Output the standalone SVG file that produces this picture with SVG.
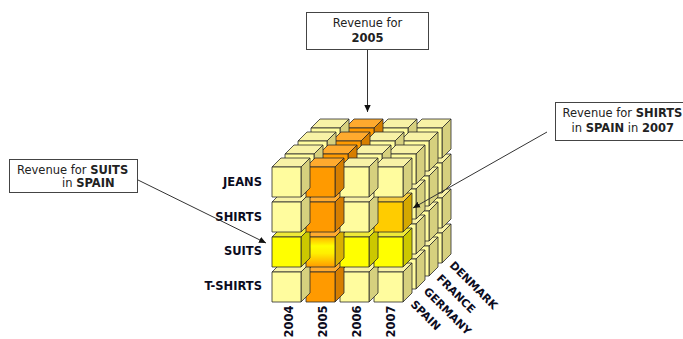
<svg xmlns="http://www.w3.org/2000/svg" xmlns:xlink="http://www.w3.org/1999/xlink" width="683" height="339" viewBox="0 0 683 339">
<style>
.f{stroke:#2a2a2a;stroke-width:0.8;stroke-linejoin:round}
.lbl{font-family:"DejaVu Sans",Verdana,sans-serif;font-weight:bold;font-size:11.5px;fill:#0c0c1e}
.cty{font-size:11px}
.co{font-family:"DejaVu Sans",Verdana,sans-serif;font-size:11.5px;fill:#222}
.co tspan.b{font-weight:bold}
.box{fill:#fff;stroke:#444;stroke-width:1}
.ln{stroke:#333;stroke-width:1;fill:none}
</style>
<defs>
<linearGradient id="gMix" x1="0" y1="0" x2="0" y2="1">
<stop offset="0" stop-color="#FFB400"/>
<stop offset="0.3" stop-color="#FFFF00"/>
<stop offset="0.55" stop-color="#FFEE00"/>
<stop offset="1" stop-color="#FF9A00"/>
</linearGradient>
<marker id="ah" markerWidth="8" markerHeight="8" refX="7" refY="4" orient="auto" markerUnits="userSpaceOnUse">
<path d="M0,0.8 L7,4 L0,7.2 Z" fill="#111"/>
</marker>
<g id="cP">
<polygon class="f" points="0,0 29,0 38,-9 9,-9" fill="#F8F2A6"/>
<polygon class="f" points="29,0 38,-9 38,21 29,30" fill="#D6D07E"/>
<rect class="f" x="0" y="0" width="29" height="30" fill="#FFFC9E"/>
</g>
<g id="cO">
<polygon class="f" points="0,0 29,0 38,-9 9,-9" fill="#FFAA2E"/>
<polygon class="f" points="29,0 38,-9 38,21 29,30" fill="#D67E00"/>
<rect class="f" x="0" y="0" width="29" height="30" fill="#FF9A00"/>
</g>
<g id="cY">
<polygon class="f" points="0,0 29,0 38,-9 9,-9" fill="#EFEA38"/>
<polygon class="f" points="29,0 38,-9 38,21 29,30" fill="#CCC800"/>
<rect class="f" x="0" y="0" width="29" height="30" fill="#FFFF00"/>
</g>
<g id="cG">
<polygon class="f" points="0,0 29,0 38,-9 9,-9" fill="#F5CC40"/>
<polygon class="f" points="29,0 38,-9 38,21 29,30" fill="#D4A800"/>
<rect class="f" x="0" y="0" width="29" height="30" fill="#FFCC00"/>
</g>
<g id="cM">
<polygon class="f" points="0,0 29,0 38,-9 9,-9" fill="#FFAA2E"/>
<polygon class="f" points="29,0 38,-9 38,21 29,30" fill="#D9B000"/>
<rect class="f" x="0" y="0" width="29" height="30" fill="url(#gMix)"/>
</g>
</defs>

<g id="cube">
<!-- layer DENMARK (k=3) -->
<use href="#cP" x="413" y="233"/><use href="#cP" x="379" y="233"/><use href="#cO" x="345" y="233"/><use href="#cP" x="311" y="233"/>
<use href="#cP" x="413" y="198"/><use href="#cP" x="379" y="198"/><use href="#cO" x="345" y="198"/><use href="#cP" x="311" y="198"/>
<use href="#cP" x="413" y="163"/><use href="#cP" x="379" y="163"/><use href="#cO" x="345" y="163"/><use href="#cP" x="311" y="163"/>
<use href="#cP" x="413" y="128"/><use href="#cP" x="379" y="128"/><use href="#cO" x="345" y="128"/><use href="#cP" x="311" y="128"/>
<!-- layer FRANCE (k=2) -->
<use href="#cP" x="400" y="246"/><use href="#cP" x="366" y="246"/><use href="#cO" x="332" y="246"/><use href="#cP" x="298" y="246"/>
<use href="#cP" x="400" y="211"/><use href="#cP" x="366" y="211"/><use href="#cO" x="332" y="211"/><use href="#cP" x="298" y="211"/>
<use href="#cP" x="400" y="176"/><use href="#cP" x="366" y="176"/><use href="#cO" x="332" y="176"/><use href="#cP" x="298" y="176"/>
<use href="#cP" x="400" y="141"/><use href="#cP" x="366" y="141"/><use href="#cO" x="332" y="141"/><use href="#cP" x="298" y="141"/>
<!-- layer GERMANY (k=1) -->
<use href="#cP" x="387" y="259"/><use href="#cP" x="353" y="259"/><use href="#cO" x="319" y="259"/><use href="#cP" x="285" y="259"/>
<use href="#cP" x="387" y="224"/><use href="#cP" x="353" y="224"/><use href="#cO" x="319" y="224"/><use href="#cP" x="285" y="224"/>
<use href="#cP" x="387" y="189"/><use href="#cP" x="353" y="189"/><use href="#cO" x="319" y="189"/><use href="#cP" x="285" y="189"/>
<use href="#cP" x="387" y="154"/><use href="#cP" x="353" y="154"/><use href="#cO" x="319" y="154"/><use href="#cP" x="285" y="154"/>
<!-- layer SPAIN (k=0) -->
<use href="#cP" x="374" y="272"/><use href="#cP" x="340" y="272"/><use href="#cO" x="306" y="272"/><use href="#cP" x="272" y="272"/>
<use href="#cY" x="374" y="237"/><use href="#cY" x="340" y="237"/><use href="#cM" x="306" y="237"/><use href="#cY" x="272" y="237"/>
<use href="#cG" x="374" y="202"/><use href="#cP" x="340" y="202"/><use href="#cO" x="306" y="202"/><use href="#cP" x="272" y="202"/>
<use href="#cP" x="374" y="167"/><use href="#cP" x="340" y="167"/><use href="#cO" x="306" y="167"/><use href="#cP" x="272" y="167"/>
</g>

<g id="axis-labels">
<text class="lbl" x="262" y="186" text-anchor="end">JEANS</text>
<text class="lbl" x="262" y="221" text-anchor="end">SHIRTS</text>
<text class="lbl" x="262" y="255" text-anchor="end">SUITS</text>
<text class="lbl" x="262" y="290" text-anchor="end">T-SHIRTS</text>
<text class="lbl" transform="translate(292.5,337.5) rotate(-90)">2004</text>
<text class="lbl" transform="translate(326.5,337.5) rotate(-90)">2005</text>
<text class="lbl" transform="translate(360.5,337.5) rotate(-90)">2006</text>
<text class="lbl" transform="translate(394.5,337.5) rotate(-90)">2007</text>
<text class="lbl cty" transform="translate(410,305) rotate(45)">SPAIN</text>
<text class="lbl cty" transform="translate(423,292) rotate(45)">GERMANY</text>
<text class="lbl cty" transform="translate(436,279) rotate(45)">FRANCE</text>
<text class="lbl cty" transform="translate(449,266) rotate(45)">DENMARK</text>
</g>

<g id="connectors">
<line class="ln" x1="367.5" y1="50" x2="367.5" y2="112" marker-end="url(#ah)"/>
<line class="ln" x1="138" y1="180" x2="266" y2="243" marker-end="url(#ah)"/>
<line class="ln" x1="547" y1="132" x2="413" y2="208" marker-end="url(#ah)"/>
</g>

<g id="callout-2005">
<rect class="box" x="306.5" y="12.5" width="122" height="37"/>
<text class="co" x="367.5" y="27" text-anchor="middle">Revenue for</text>
<text class="co" x="367.5" y="42" text-anchor="middle"><tspan class="b">2005</tspan></text>
</g>

<g id="callout-suits">
<rect class="box" x="9.5" y="159.5" width="128" height="33"/>
<text class="co" x="17" y="174">Revenue for <tspan class="b">SUITS</tspan></text>
<text class="co" x="62" y="187">in <tspan class="b">SPAIN</tspan></text>
</g>

<g id="callout-shirts">
<rect class="box" x="555.5" y="102.5" width="130" height="38"/>
<text class="co" x="562.5" y="117">Revenue for <tspan class="b">SHIRTS</tspan></text>
<text class="co" x="571.5" y="132">in <tspan class="b">SPAIN</tspan> in <tspan class="b">2007</tspan></text>
</g>
</svg>
